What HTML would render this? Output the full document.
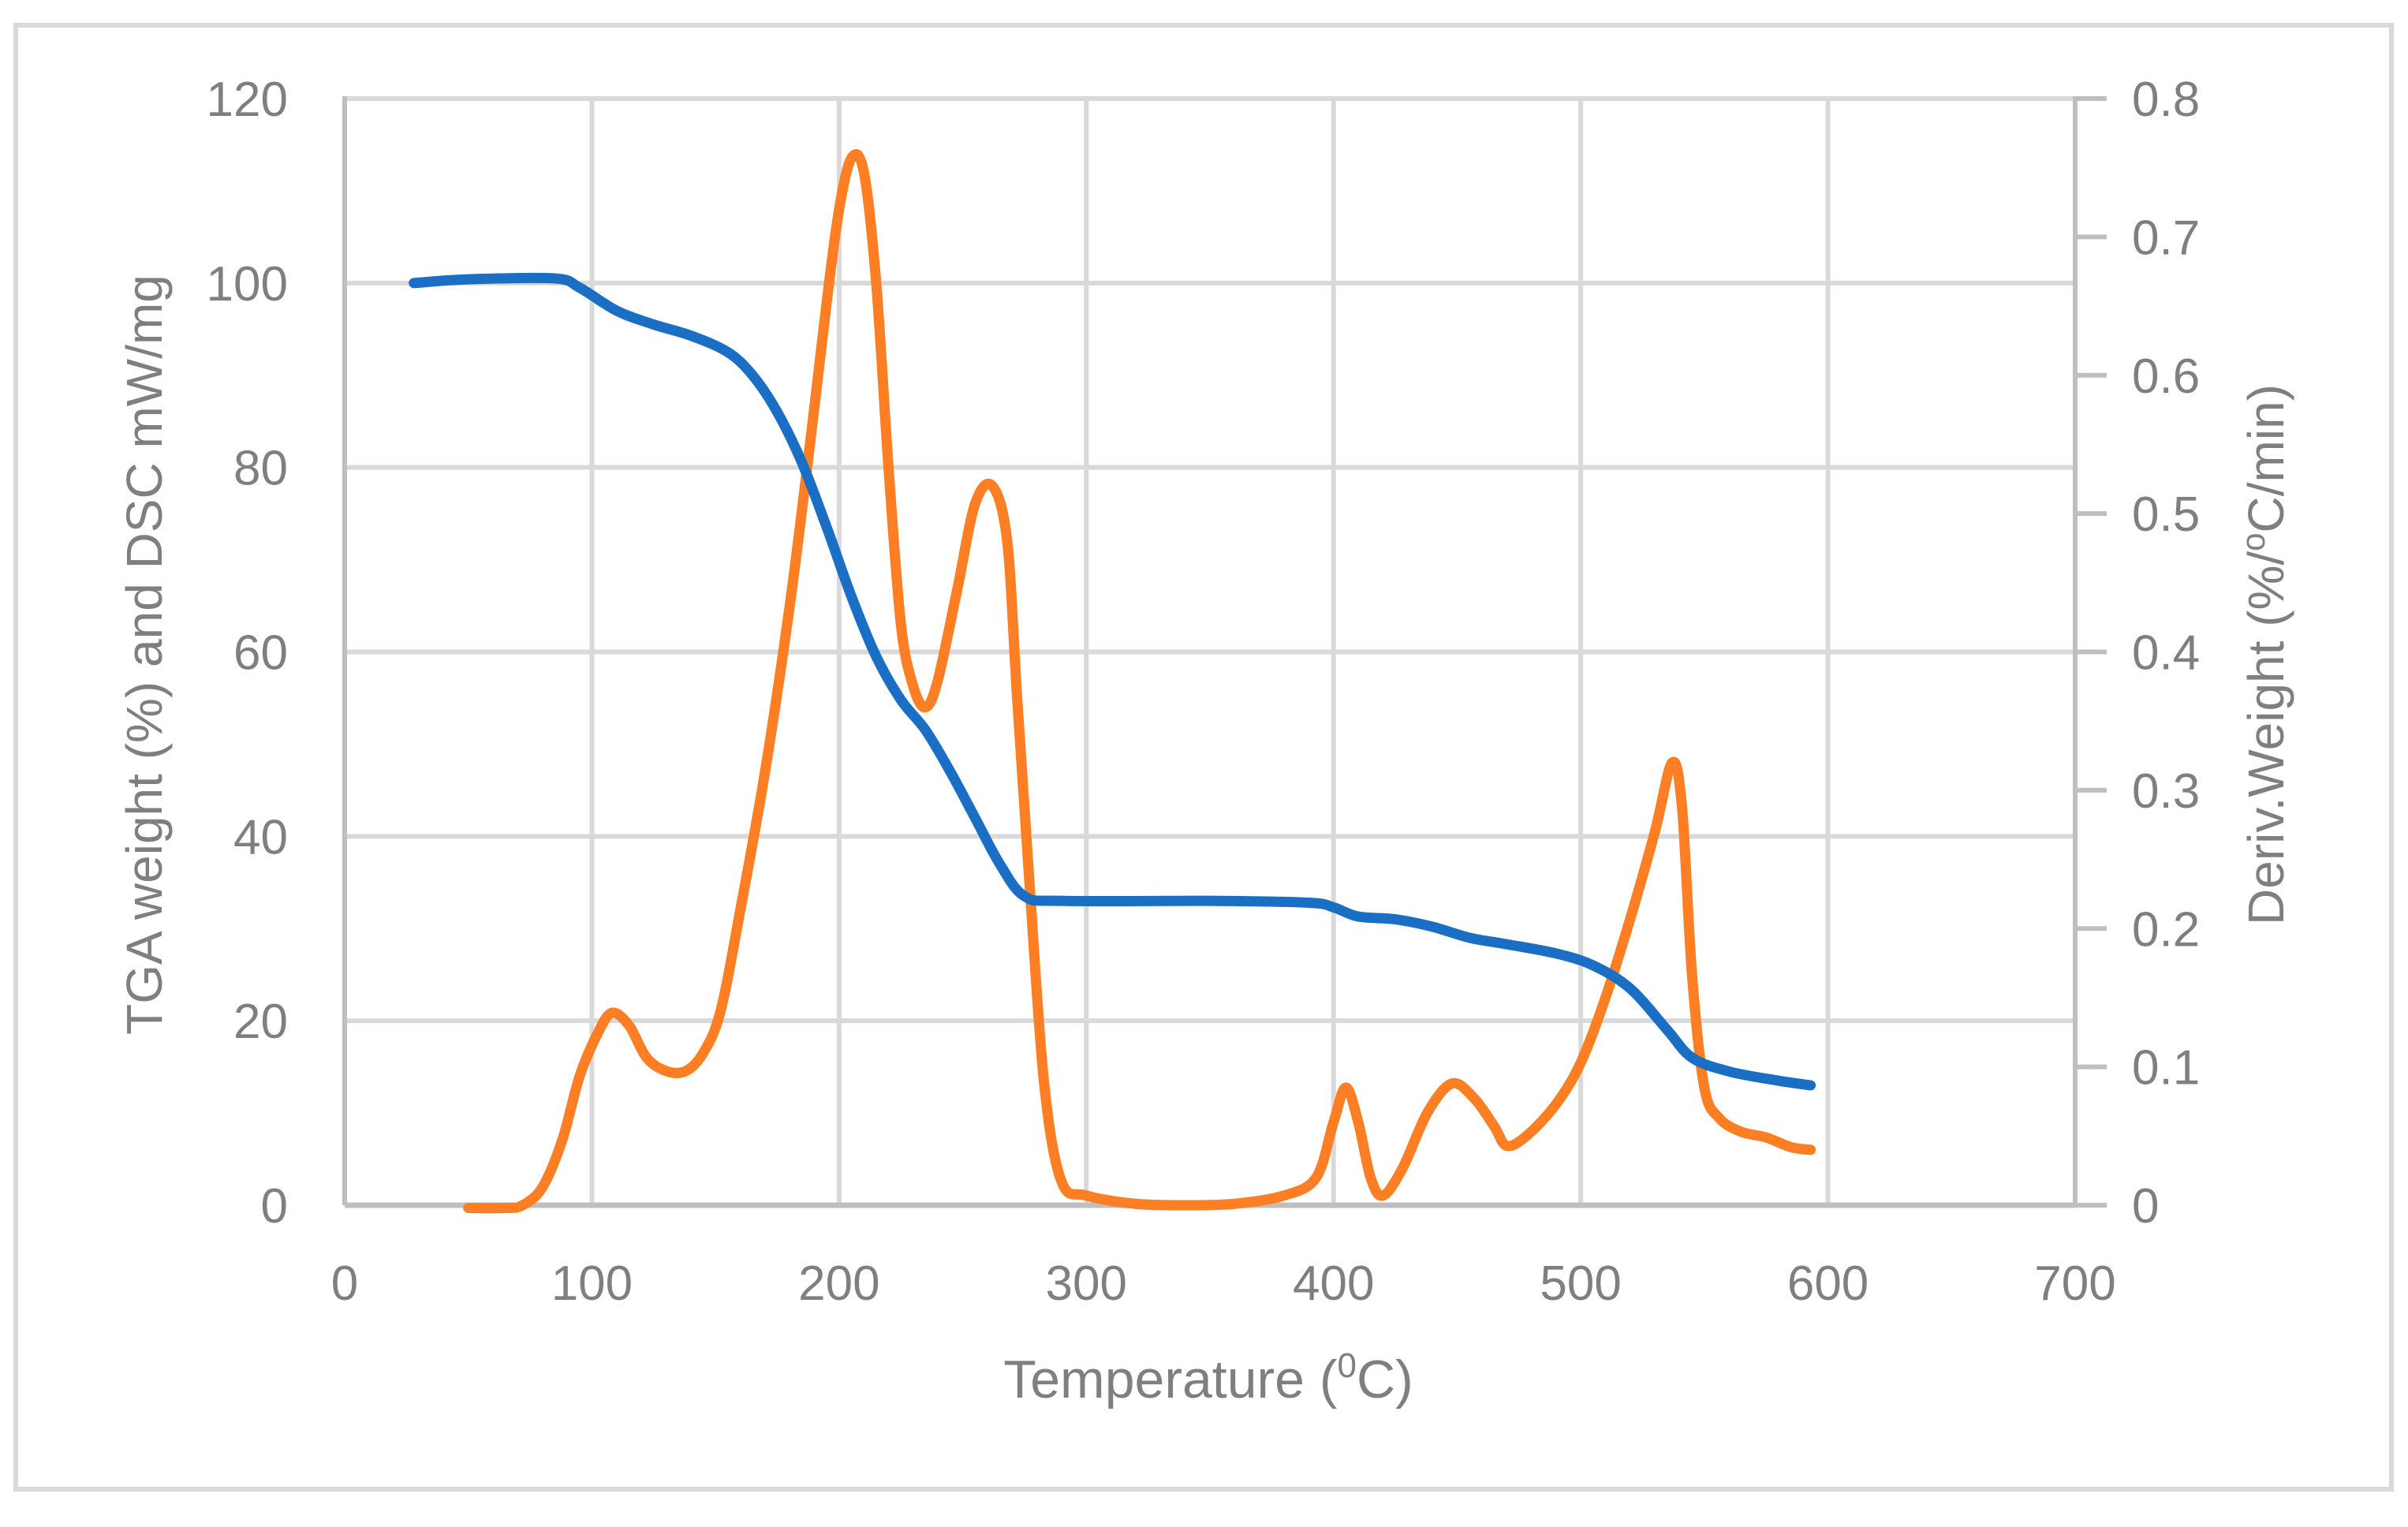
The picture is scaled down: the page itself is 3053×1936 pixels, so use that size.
<!DOCTYPE html>
<html><head><meta charset="utf-8"><style>
html,body{margin:0;padding:0;background:#fff;}
svg{display:block;font-family:"Liberation Sans",sans-serif;}
</style></head><body>
<svg id="chart" width="3053" height="1936" viewBox="0 0 3053 1936">
<rect x="20" y="32" width="3012" height="1856" fill="#fff" stroke="#d9d9d9" stroke-width="6"/>
<g id="grid"></g>
<g id="axes"></g>
<g id="series"></g>
<text x="1532" y="1772" text-anchor="middle" font-size="68" fill="#7f7f7f">Temperature (<tspan font-size="44" dy="-26">0</tspan><tspan dy="26">C)</tspan></text>
<text transform="translate(205,830) rotate(-90)" text-anchor="middle" font-size="64" fill="#7f7f7f">TGA weight (%) and DSC mW/mg</text>
<text transform="translate(2895,830) rotate(-90)" text-anchor="middle" font-size="64" fill="#7f7f7f">Deriv.Weight (%/<tspan font-size="42" dy="-24">o</tspan><tspan dy="24">C/min)</tspan></text>
</svg>
<script>
const xTicks = [0,100,200,300,400,500,600,700];
const yLeftTicks = [0,20,40,60,80,100,120];
const yRightTicks = ["0","0.1","0.2","0.3","0.4","0.5","0.6","0.7","0.8"];
const tgaTemp = [28,50,85,95,110,125,140,155,165,175,185,195,205,215,225,235,245,255,265,275,290,350,390,400,410,425,440,455,470,490,505,520,535,545,560,580,593];
const tgaWeight = [100,100.4,100.5,99.5,97,95.5,94.3,92.5,90,86,80.5,73.5,66,59.5,54.8,51.5,47,42,37,33.5,33,33,32.8,32.3,31.3,31,30.2,29,28.3,27.3,26,23.5,19,16,14.5,13.5,13];
const derivTemp = [50,65,72,80,88,95,102,108,115,122,130,138,145,152,160,170,180,188,195,200,205,210,215,220,225,230,235,240,248,255,262,268,272,277,283,290,300,320,340,360,380,393,400,405,410,415,420,428,438,448,457,465,470,478,490,500,510,520,530,537,541,545,550,556,565,575,585,593];
const derivValue = [-0.002,-0.002,0,0.013,0.047,0.093,0.123,0.139,0.13,0.107,0.097,0.097,0.11,0.14,0.213,0.313,0.433,0.547,0.653,0.72,0.757,0.747,0.667,0.533,0.42,0.375,0.36,0.38,0.447,0.507,0.52,0.48,0.367,0.233,0.087,0.017,0.007,0.001,0,0.001,0.007,0.02,0.06,0.085,0.06,0.02,0.007,0.027,0.067,0.088,0.077,0.057,0.043,0.05,0.073,0.103,0.15,0.207,0.27,0.32,0.287,0.167,0.085,0.063,0.053,0.049,0.042,0.04];

const L=437,R=2631,T=125,B=1528;
const xs=v=>L+(v-0)/700*(R-L);
const yl=v=>B-v/120*(B-T);
const yr=v=>B-v/0.8*(B-T);
const NS="http://www.w3.org/2000/svg";
function mk(tag,attrs,parent){const e=document.createElementNS(NS,tag);for(const k in attrs)e.setAttribute(k,attrs[k]);parent.appendChild(e);return e;}
const grid=document.getElementById('grid'),axes=document.getElementById('axes'),series=document.getElementById('series');
xTicks.forEach(t=>{
  if(t>0&&t<700){const g=mk('line',{x1:xs(t),x2:xs(t),y1:T,y2:B,stroke:'#d9d9d9','stroke-width':6},grid);
  
  }
  const lb=mk('text',{x:xs(t),y:1648,'text-anchor':'middle','font-size':62,fill:'#7f7f7f'},axes);
  lb.textContent=t;
  
  
});
yLeftTicks.forEach(t=>{
  if(t>0){const g=mk('line',{x1:L,x2:R,y1:yl(t),y2:yl(t),stroke:'#d9d9d9','stroke-width':6},grid);
  
  }
  const lb=mk('text',{x:365,y:yl(t)+22,'text-anchor':'end','font-size':62,fill:'#7f7f7f'},axes);
  lb.textContent=t;
  
  
});
yRightTicks.forEach(t=>{
  const v=parseFloat(t);
  const tk=mk('line',{x1:R,x2:R+40,y1:yr(v),y2:yr(v),stroke:'#bfbfbf','stroke-width':6},axes);
  
  
  const lb=mk('text',{x:2703,y:yr(v)+22,'text-anchor':'start','font-size':62,fill:'#7f7f7f'},axes);
  lb.textContent=t;
  
  
});
const la=mk('line',{x1:L,x2:L,y1:T-3,y2:B,stroke:'#bfbfbf','stroke-width':6},axes);


const ra=mk('line',{x1:R,x2:R,y1:T-3,y2:B,stroke:'#bfbfbf','stroke-width':6},axes);


const xa=mk('line',{x1:L,x2:R,y1:B,y2:B,stroke:'#bfbfbf','stroke-width':7},axes);


function smooth(pts){
  let d=`M${pts[0][0]},${pts[0][1]}`;
  for(let i=0;i<pts.length-1;i++){
    const p0=pts[i-1]||pts[i],p1=pts[i],p2=pts[i+1],p3=pts[i+2]||p2;
    const c1=[p1[0]+(p2[0]-p0[0])/6,p1[1]+(p2[1]-p0[1])/6];
    const c2=[p2[0]-(p3[0]-p1[0])/6,p2[1]-(p3[1]-p1[1])/6];
    d+=` C${c1[0]},${c1[1]} ${c2[0]},${c2[1]} ${p2[0]},${p2[1]}`;
  }
  return d;
}
const tgaPts=tgaTemp.map((t,i)=>[xs(t),yl(tgaWeight[i])]);
const derPts=derivTemp.map((t,i)=>[xs(t),yr(derivValue[i])]);
const dp=mk('path',{d:smooth(derPts),fill:'none',stroke:'#fd7e23','stroke-width':13,'stroke-linecap':'round','stroke-linejoin':'round'},series);


const tp=mk('path',{d:smooth(tgaPts),fill:'none',stroke:'#1a6fc5','stroke-width':13,'stroke-linecap':'round','stroke-linejoin':'round'},series);


</script>
</body></html>
